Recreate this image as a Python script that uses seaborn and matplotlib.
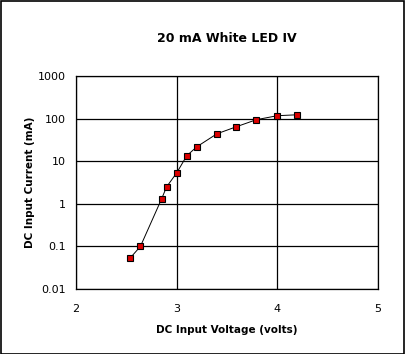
import matplotlib
matplotlib.use("Agg")
import matplotlib.pyplot as plt
import seaborn as sns
import pandas as pd

voltage = [2.54, 2.64, 2.85, 2.90, 3.00, 3.10, 3.20, 3.40, 3.59, 3.79, 4.00, 4.20]
current_ma = [0.054, 0.10, 1.3, 2.5, 5.3, 13.4, 21.8, 44, 64, 94, 117, 123]
x_ticks = [2, 3, 4, 5]
y_ticks = [0.01, 0.1, 1, 10, 100, 1000]
y_tick_labels = ["0.01", "0.1", "1", "10", "100", "1000"]

df = pd.DataFrame({"V": voltage, "I": current_ma})

sns.set_style("white")
plt.rcParams["font.family"] = ["DejaVu Sans"]
plt.rcParams["text.color"] = "black"
plt.rcParams["axes.labelcolor"] = "black"

fig = plt.figure(figsize=(4.05, 3.54), dpi=100)
ax = fig.add_axes([76/405, 1 - 289/354, (378-76)/405, (289-76)/354])

sns.lineplot(data=df, x="V", y="I", ax=ax, color="black", linewidth=0.7,
             marker="s", markersize=4.5, markerfacecolor="#dd0000",
             markeredgecolor="black", markeredgewidth=0.8)

ax.set_yscale("log")
ax.set_xlim(2, 5)
ax.set_ylim(0.01, 1000)
ax.set_xticks(x_ticks)
ax.set_xticklabels([str(t) for t in x_ticks])
ax.set_yticks(y_ticks)
ax.set_yticklabels(y_tick_labels)
ax.yaxis.set_minor_locator(matplotlib.ticker.NullLocator())
ax.grid(True, color="black", linewidth=0.9)
for s in ax.spines.values():
    s.set_color("black")
    s.set_linewidth(0.9)
ax.tick_params(axis="both", direction="out", length=4, width=0.9, colors="black",
               labelcolor="black", labelsize=8, pad=3)
ax.tick_params(axis="x", pad=7)
ax.set_xlabel("DC Input Voltage (volts)", fontsize=7.5, fontweight="bold", labelpad=8, color="black")
ax.set_ylabel("DC Input Current (mA)", fontsize=7.5, fontweight="bold", labelpad=2, color="black")
fig.text(227/405, 1 - 38/354, "20 mA White LED IV", ha="center", va="center",
         fontsize=9, fontweight="bold", color="black")

border = plt.Rectangle((0.5/405, 0.5/354), 1 - 1.5/405, 1 - 1.5/354, transform=fig.transFigure,
                       fill=False, edgecolor="black", linewidth=1.2)
fig.patches.append(border)

fig.savefig("out.png", dpi=100)
